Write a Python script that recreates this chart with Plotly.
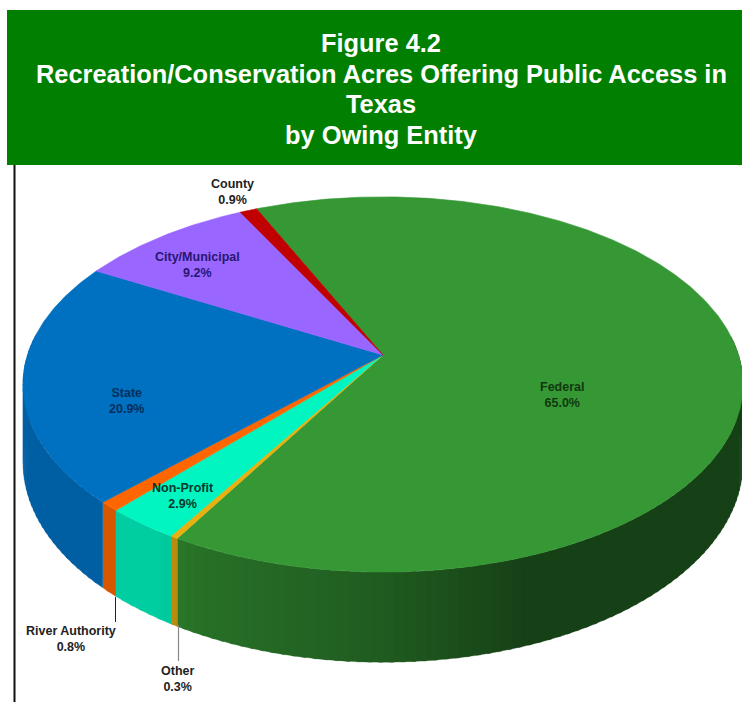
import numpy as np
import plotly.graph_objects as go

# ---- data (clockwise from the Federal slice) ----
entities = ["Federal", "Other", "Non-Profit", "River Authority", "State", "City/Municipal", "County"]
shares = [65.0, 0.3, 2.9, 0.8, 20.9, 9.2, 0.9]
top_colors = ["#359835", "#e8b010", "#00f5c0", "#ff6600", "#0070c0", "#9966ff", "#c00000"]
label_colors = ["#12380f", "#222222", "#06382c", "#222222", "#062f5c", "#2a1670", "#222222"]
title_lines = ["Figure 4.2", "Recreation/Conservation Acres Offering Public Access in", "Texas", "by Owing Entity"]

# ---- projection of the tilted disc ----
CX, CY = 383.0, 355.0
A, B, K = 355.5, 183.0, 0.157
DEPTH = 76.0
START_DEG = -24.0


def project(theta_deg, drop=0.0):
    t = np.radians(theta_deg)
    u, v = np.sin(t), -np.cos(t)
    w = 1 - K * v
    return CX + A * u / w, CY + (B * v + drop) / w


def shade(theta_deg):
    u = np.sin(np.radians(theta_deg))
    return np.interp(u, [-1, -0.55, -0.45, 0, 0.35, 1], [0.85, 0.84, 0.74, 0.6, 0.42, 0.42])


def scaled(hex_color, f):
    r, g, b = (int(hex_color[i:i + 2], 16) for i in (1, 3, 5))
    return f"rgb({r * f:.0f},{g * f:.0f},{b * f:.0f})"


edges = START_DEG + np.concatenate([[0], np.cumsum(shares)]) * 360 / sum(shares)
fig = go.Figure()


def poly(xs, ys, color, width=0.6):
    fig.add_trace(go.Scatter(x=xs, y=ys, mode="lines", fill="toself", fillcolor=color,
                             line=dict(color=color, width=width), hoverinfo="skip", showlegend=False))


# side wall strips, visible front part only; each overlaps the next so no seams show
for i, name in enumerate(entities):
    a0, a1 = edges[i], edges[i + 1]
    n = max(2, int((a1 - a0) / 1.5))
    grid = np.linspace(a0, a1, n + 1)
    for s0, s1 in zip(grid[:-1], grid[1:]):
        mid = (s0 + s1) / 2
        if -np.cos(np.radians(mid)) < -0.1:
            continue
        tt = np.array([s0, s1 + 0.6]) if s1 < a1 else np.array([s0, s1])
        x_top, y_top = project(tt)
        x_bot, y_bot = project(tt[::-1], DEPTH)
        poly(np.r_[x_top, x_bot], np.r_[y_top, y_bot], scaled(top_colors[i], shade(mid)), 0.3)

# top face
for i, name in enumerate(entities):
    tt = np.linspace(edges[i], edges[i + 1], max(3, int((edges[i + 1] - edges[i]) * 2)))
    x, y = project(tt)
    poly(np.r_[CX, x, CX], np.r_[CY, y, CY], top_colors[i])

# slice labels
label_xy = {"Federal": (562, 395), "Other": (177, 679), "Non-Profit": (183, 496), "River Authority": (71, 639),
            "State": (126, 401), "City/Municipal": (197, 265), "County": (232, 192)}
annotations = []
for name, val, col in zip(entities, shares, label_colors):
    lx, ly = label_xy[name]
    annotations.append(dict(x=lx, y=ly, text=f"<b>{name}<br>{val:.1f}%</b>", showarrow=False,
                            font=dict(family="Liberation Sans", size=12.5, color=col),
                            xanchor="center", yanchor="middle", align="center"))
for line, ty in zip(title_lines, [43, 74, 104, 135]):
    annotations.append(dict(x=381, y=ty, text=f"<b>{line}</b>", showarrow=False,
                            font=dict(family="Liberation Sans", size=25.4, color="white"),
                            xanchor="center", yanchor="middle", align="center"))

shapes = [
    dict(type="rect", x0=7, x1=742, y0=10, y1=165, fillcolor="#007f00", line_width=0, layer="below"),
    dict(type="line", x0=14.5, x1=14.5, y0=165, y1=702, line=dict(color="#111111", width=2)),
    dict(type="line", x0=115.5, x1=115.5, y0=597, y1=622, line=dict(color="#222222", width=1)),
    dict(type="line", x0=178.5, x1=178.5, y0=625, y1=661, line=dict(color="#888888", width=1.2)),
]

fig.update_layout(
    width=742, height=702, margin=dict(l=0, r=0, t=0, b=0),
    paper_bgcolor="white", plot_bgcolor="white", showlegend=False,
    xaxis=dict(range=[0, 742], visible=False, fixedrange=True),
    yaxis=dict(range=[702, 0], visible=False, fixedrange=True),
    shapes=shapes, annotations=annotations,
)
fig.write_html("out.html", post_script="document.body.style.margin='0';",
               config=dict(displayModeBar=False))
